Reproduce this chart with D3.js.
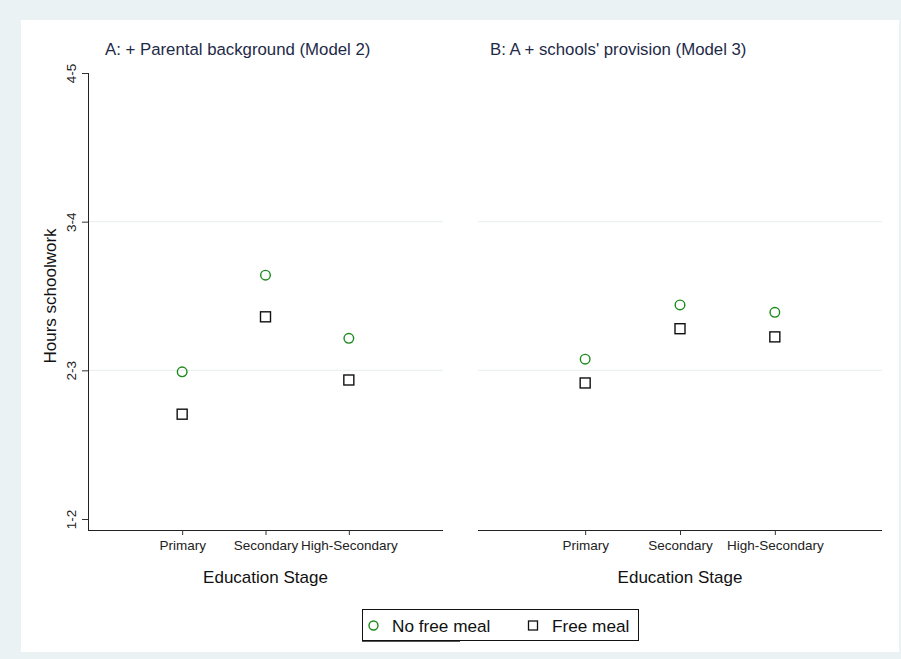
<!DOCTYPE html>
<html><head><meta charset="utf-8">
<script src="https://cdn.jsdelivr.net/npm/d3@7"></script>
<style>body{margin:0;background:#EAF2F3;} svg{display:block;font-family:"Liberation Sans",Arial,sans-serif;}</style>
</head><body>
<svg id="c" width="901" height="659"></svg>
<script>
const categories = ["Primary", "Secondary", "High-Secondary"];
const yTickValues = [1, 2, 3, 4];
const yTickLabels = ["1-2", "2-3", "3-4", "4-5"];
const panelTitles = ["A: + Parental background (Model 2)", "B: A + schools' provision (Model 3)"];
const seriesNames = ["No free meal", "Free meal"];
// Panel A (Model 2)
const modelA_noFreeMeal = [1.99, 2.64, 2.215];
const modelA_freeMeal   = [1.705, 2.36, 1.935];
// Panel B (Model 3)
const modelB_noFreeMeal = [2.075, 2.44, 2.39];
const modelB_freeMeal   = [1.915, 2.28, 2.225];

const svg = d3.select("#c");
svg.append("rect").attr("x",0).attr("y",0).attr("width",901).attr("height",659).attr("fill","#EAF2F3");
svg.append("rect").attr("x",21).attr("y",20).attr("width",878).attr("height",632).attr("fill","#fff");

const y = d3.scaleLinear().domain([1,4]).range([519,73]);
const yBottom = 530;
const panels = [
  {x0:88, x1:443, title:panelTitles[0], tx:105, a:modelA_noFreeMeal, b:modelA_freeMeal, yaxis:true},
  {x0:478, x1:882, title:panelTitles[1], tx:490, a:modelB_noFreeMeal, b:modelB_freeMeal, yaxis:false}
];
const green = "#1B8A1B";

panels.forEach(p => {
  const g = svg.append("g");
  const x = d3.scaleLinear().domain([-0.13, 4.13]).range([p.x0, p.x1]);
  const xc = d => x(categories.indexOf(d) + 1);
  // gridlines
  g.selectAll(".grid").data([2,3]).join("line")
    .attr("x1",p.x0).attr("x2",p.x1).attr("y1",d=>y(d)).attr("y2",d=>y(d))
    .attr("stroke","#E6EFF1").attr("stroke-width",1);
  // x axis
  const xa = g.append("g").attr("transform",`translate(0,${yBottom})`)
    .call(d3.axisBottom(d3.scalePoint().domain(categories).range([x(1),x(3)])).tickSize(5).tickPadding(5));
  xa.select(".domain").attr("d",`M${p.x0},0.5H${p.x1}`).attr("stroke","#222");
  xa.selectAll(".tick line").attr("stroke","#333");
  xa.selectAll(".tick text").attr("font-size",13.5).attr("fill","#222").attr("font-family","Liberation Sans, Arial, sans-serif");
  g.append("text").attr("x",(p.x0+p.x1)/2).attr("y",583).attr("text-anchor","middle")
    .attr("font-size",17).attr("fill","#111").text("Education Stage");
  // title
  g.append("text").attr("x",p.tx).attr("y",55).attr("font-size",16.8).attr("fill","#1E2A48").text(p.title);
  if (p.yaxis) {
    const ya = g.append("g").attr("transform",`translate(${p.x0},0)`)
      .call(d3.axisLeft(y).tickValues(yTickValues).tickFormat((d,i)=>yTickLabels[i]).tickSize(6).tickPadding(4));
    ya.select(".domain").attr("d",`M0.5,${y(4)}V${yBottom}`).attr("stroke","#222");
    ya.selectAll(".tick line").attr("stroke","#333");
    ya.selectAll(".tick text").attr("font-size",13.5).attr("fill","#222")
      .attr("text-anchor","middle").attr("x",0).attr("y",0)
      .attr("transform","translate(-17,0) rotate(-90)").attr("dy","0.35em");
    svg.append("text").attr("transform","translate(56,296) rotate(-90)").attr("text-anchor","middle")
      .attr("font-size",17).attr("fill","#111").text("Hours schoolwork");
  }
  // markers
  g.selectAll(".sq").data(p.b).join("rect")
    .attr("x",(d,i)=>xc(categories[i])-5).attr("y",d=>y(d)-5).attr("width",10).attr("height",10)
    .attr("fill","none").attr("stroke","#111").attr("stroke-width",1.4);
  g.selectAll(".ci").data(p.a).join("circle")
    .attr("cx",(d,i)=>xc(categories[i])).attr("cy",d=>y(d)).attr("r",4.8)
    .attr("fill","none").attr("stroke",green).attr("stroke-width",1.4);
});

// legend
const lg = svg.append("g");
lg.append("rect").attr("x",362.5).attr("y",609.5).attr("width",276).attr("height",31)
  .attr("fill","#fff").attr("stroke","#111").attr("stroke-width",1);
lg.append("line").attr("x1",362).attr("x2",460).attr("y1",641.5).attr("y2",641.5).attr("stroke","#555").attr("stroke-width",1);
lg.append("circle").attr("cx",373.5).attr("cy",625.5).attr("r",4.5).attr("fill","none").attr("stroke",green).attr("stroke-width",1.4);
lg.append("text").attr("x",392).attr("y",632).attr("font-size",17.2).attr("fill","#111").text(seriesNames[0]);
lg.append("rect").attr("x",528.5).attr("y",621).attr("width",9).attr("height",9).attr("fill","none").attr("stroke","#111").attr("stroke-width",1.3);
lg.append("text").attr("x",552).attr("y",632).attr("font-size",17.2).attr("fill","#111").text(seriesNames[1]);
</script>
</body></html>
